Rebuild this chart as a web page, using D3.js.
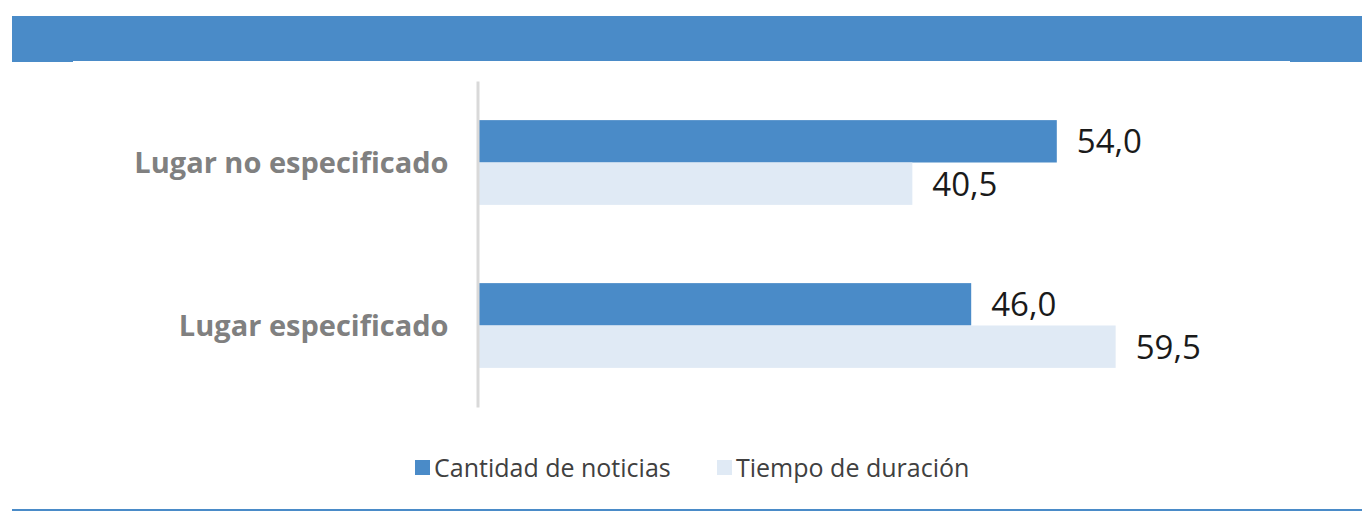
<!DOCTYPE html>
<html>
<head>
<meta charset="utf-8">
<script src="https://cdn.jsdelivr.net/npm/d3@7"></script>
<style>
  body { margin: 0; background: #fff; }
  svg { display: block; font-family: "Open Sans", sans-serif; }
</style>
</head>
<body>
<div id="chart"></div>
<script>
var categories = ["Lugar no especificado", "Lugar especificado"];
var seriesNames = ["Cantidad de noticias", "Tiempo de duración"];
var cantidad = [54.0, 46.0];
var tiempo = [40.5, 59.5];
var colors = ["#4a8bc8", "#e0eaf5"];

var W = 1362, H = 511;
var margin = { top: 81, left: 479, bottom: 104, right: 134 };

var svg = d3.select("#chart").append("svg")
    .attr("width", W)
    .attr("height", H);

// header band
svg.append("rect").attr("x", 12).attr("y", 16).attr("width", W - 12).attr("height", 45).attr("fill", colors[0]);
svg.append("rect").attr("x", 12).attr("y", 60).attr("width", 61).attr("height", 2).attr("fill", colors[0]);
svg.append("rect").attr("x", 1290).attr("y", 60).attr("width", W - 1290).attr("height", 2).attr("fill", colors[0]);

// bottom rule
svg.append("rect").attr("x", 12).attr("y", 509).attr("width", W - 12).attr("height", 2).attr("fill", colors[0]);

var data = categories.map(function (c, i) {
    return { cat: c, values: [cantidad[i], tiempo[i]] };
});

var y = d3.scaleBand()
    .domain(categories)
    .range([margin.top, H - margin.bottom])
    .paddingInner(0.48)
    .paddingOuter(0.24);

var ySub = d3.scaleBand()
    .domain([0, 1])
    .range([0, y.bandwidth()]);

var x = d3.scaleLinear()
    .domain([0, 70])
    .range([margin.left, margin.left + 70 * 10.7]);

var g = svg.selectAll(".cat")
    .data(data)
    .enter().append("g")
    .attr("class", "cat")
    .attr("transform", function (d) { return "translate(0," + y(d.cat) + ")"; });

g.selectAll("rect")
    .data(function (d) { return d.values; })
    .enter().append("rect")
    .attr("x", x(0))
    .attr("y", function (d, i) { return ySub(i); })
    .attr("width", function (d) { return x(d) - x(0); })
    .attr("height", ySub.bandwidth())
    .attr("fill", function (d, i) { return colors[i]; });

g.selectAll(".label")
    .data(function (d) { return d.values; })
    .enter().append("text")
    .attr("class", "label")
    .attr("x", function (d) { return x(d) + 20; })
    .attr("y", function (d, i) { return ySub(i) + ySub.bandwidth() / 2; })
    .attr("dy", "0.36em")
    .attr("fill", "#1a1a1a")
    .style("font-size", "33px")
    .text(function (d) { return d3.format(".1f")(d).replace(".", ","); });

// axis line
var yAxis = d3.axisLeft(y).tickSize(0).tickPadding(29);
var ax = svg.append("g")
    .attr("transform", "translate(" + (margin.left - 1.5) + ",0)")
    .call(yAxis);
ax.select(".domain").attr("stroke", "#d9d9d9").attr("stroke-width", 3);
ax.selectAll("text")
    .attr("fill", "#808080")
    .style("font-family", "'Open Sans', sans-serif")
    .style("font-weight", "bold")
    .style("font-size", "29px")
    .attr("dy", "0.36em");

// legend
var legendX = [415, 717];
var leg = svg.selectAll(".legend")
    .data(seriesNames)
    .enter().append("g")
    .attr("class", "legend")
    .attr("transform", function (d, i) { return "translate(" + legendX[i] + ",460)"; });
leg.append("rect")
    .attr("width", 15)
    .attr("height", 15)
    .attr("fill", function (d, i) { return colors[i]; });
leg.append("text")
    .attr("x", 19)
    .attr("y", 7.5)
    .attr("dy", "0.36em")
    .attr("fill", "#404040")
    .style("font-size", "25px")
    .text(function (d) { return d; });
</script>
</body>
</html>
